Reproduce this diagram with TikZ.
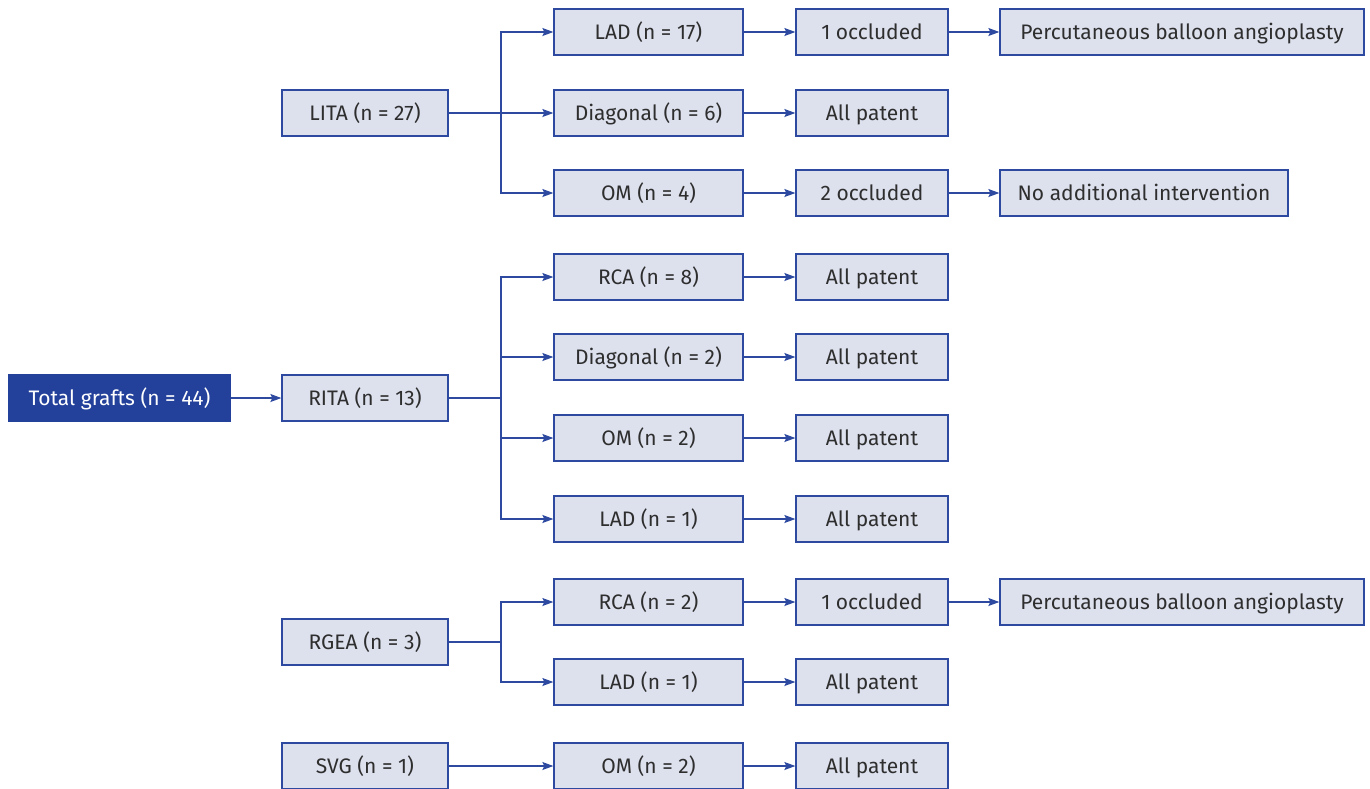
\documentclass[tikz,border=0pt]{standalone}
\usepackage{fontspec}
\setmainfont{Fira Sans}
\usetikzlibrary{arrows.meta}
\definecolor{boxfill}{HTML}{DDE1EE}
\definecolor{boxline}{HTML}{2D4AA0}
\definecolor{darkfill}{HTML}{23409A}
\definecolor{txt}{HTML}{2E2E2E}
\tikzset{
  box/.style={draw=boxline, line width=1.3pt, fill=boxfill, text=txt, inner sep=0pt,
    minimum height=46pt, text height=16pt, text depth=2pt, font=\fontsize{21}{24}\selectfont},
  c1/.style={box, minimum width=166pt},
  c2/.style={box, minimum width=189pt},
  c3/.style={box, minimum width=152pt},
  root/.style={box, draw=darkfill, fill=darkfill, text=white, minimum width=221pt},
  link/.style={draw=boxline, line width=1.2pt},
  arr/.style={link, -{Stealth[length=11pt,width=8pt,inset=2pt]}}
}
\begin{document}
\begin{tikzpicture}[x=1pt,y=-1pt]
\useasboundingbox (0,0) rectangle (1370,788);
% column 0
\node[root] (tot) at (119.5,398) {Total grafts (n = 44)};
% column 1
\node[c1] (lita) at (365,113) {LITA (n = 27)};
\node[c1] (rita) at (365,398) {RITA (n = 13)};
\node[c1] (rgea) at (365,642) {RGEA (n = 3)};
\node[c1] (svg) at (365,766) {SVG (n = 1)};
% column 2
\node[c2] (l1) at (648.5,32) {LAD (n = 17)};
\node[c2] (l2) at (648.5,113) {Diagonal (n = 6)};
\node[c2] (l3) at (648.5,193) {OM (n = 4)};
\node[c2] (r1) at (648.5,277) {RCA (n = 8)};
\node[c2] (r2) at (648.5,357) {Diagonal (n = 2)};
\node[c2] (r3) at (648.5,438) {OM (n = 2)};
\node[c2] (r4) at (648.5,519) {LAD (n = 1)};
\node[c2] (g1) at (648.5,602) {RCA (n = 2)};
\node[c2] (g2) at (648.5,682) {LAD (n = 1)};
\node[c2] (s1) at (648.5,766) {OM (n = 2)};
% column 3
\node[c3] (l1o) at (872,32) {1 occluded};
\node[c3] (l2o) at (872,113) {All patent};
\node[c3] (l3o) at (872,193) {2 occluded};
\node[c3] (r1o) at (872,277) {All patent};
\node[c3] (r2o) at (872,357) {All patent};
\node[c3] (r3o) at (872,438) {All patent};
\node[c3] (r4o) at (872,519) {All patent};
\node[c3] (g1o) at (872,602) {1 occluded};
\node[c3] (g2o) at (872,682) {All patent};
\node[c3] (s1o) at (872,766) {All patent};
% column 4
\node[box, minimum width=364pt] (l1p) at (1182,32) {Percutaneous balloon angioplasty};
\node[box, minimum width=288pt] (l3p) at (1144,193) {No additional intervention};
\node[box, minimum width=364pt] (g1p) at (1182,602) {Percutaneous balloon angioplasty};
% root
\draw[arr] (tot) -- (rita);
% LITA branches
\coordinate (lj) at (501,113);
\draw[link] (lita.east) -- (lj);
\draw[arr] (lj) |- (l1.west);
\draw[arr] (lj) -- (l2.west);
\draw[arr] (lj) |- (l3.west);
% RITA branches
\coordinate (rj) at (501,398);
\draw[link] (rita.east) -- (rj);
\draw[arr] (rj) |- (r1.west);
\draw[arr] (rj) |- (r2.west);
\draw[arr] (rj) |- (r3.west);
\draw[arr] (rj) |- (r4.west);
% RGEA branches
\coordinate (gj) at (501,642);
\draw[link] (rgea.east) -- (gj);
\draw[arr] (gj) |- (g1.west);
\draw[arr] (gj) |- (g2.west);
% SVG
\draw[arr] (svg) -- (s1);
% column 2 -> 3
\foreach \a in {l1,l2,l3,r1,r2,r3,r4,g1,g2,s1} {\draw[arr] (\a) -- (\a o);}
% column 3 -> 4
\draw[arr] (l1o) -- (l1p);
\draw[arr] (l3o) -- (l3p);
\draw[arr] (g1o) -- (g1p);
\end{tikzpicture}
\end{document}
